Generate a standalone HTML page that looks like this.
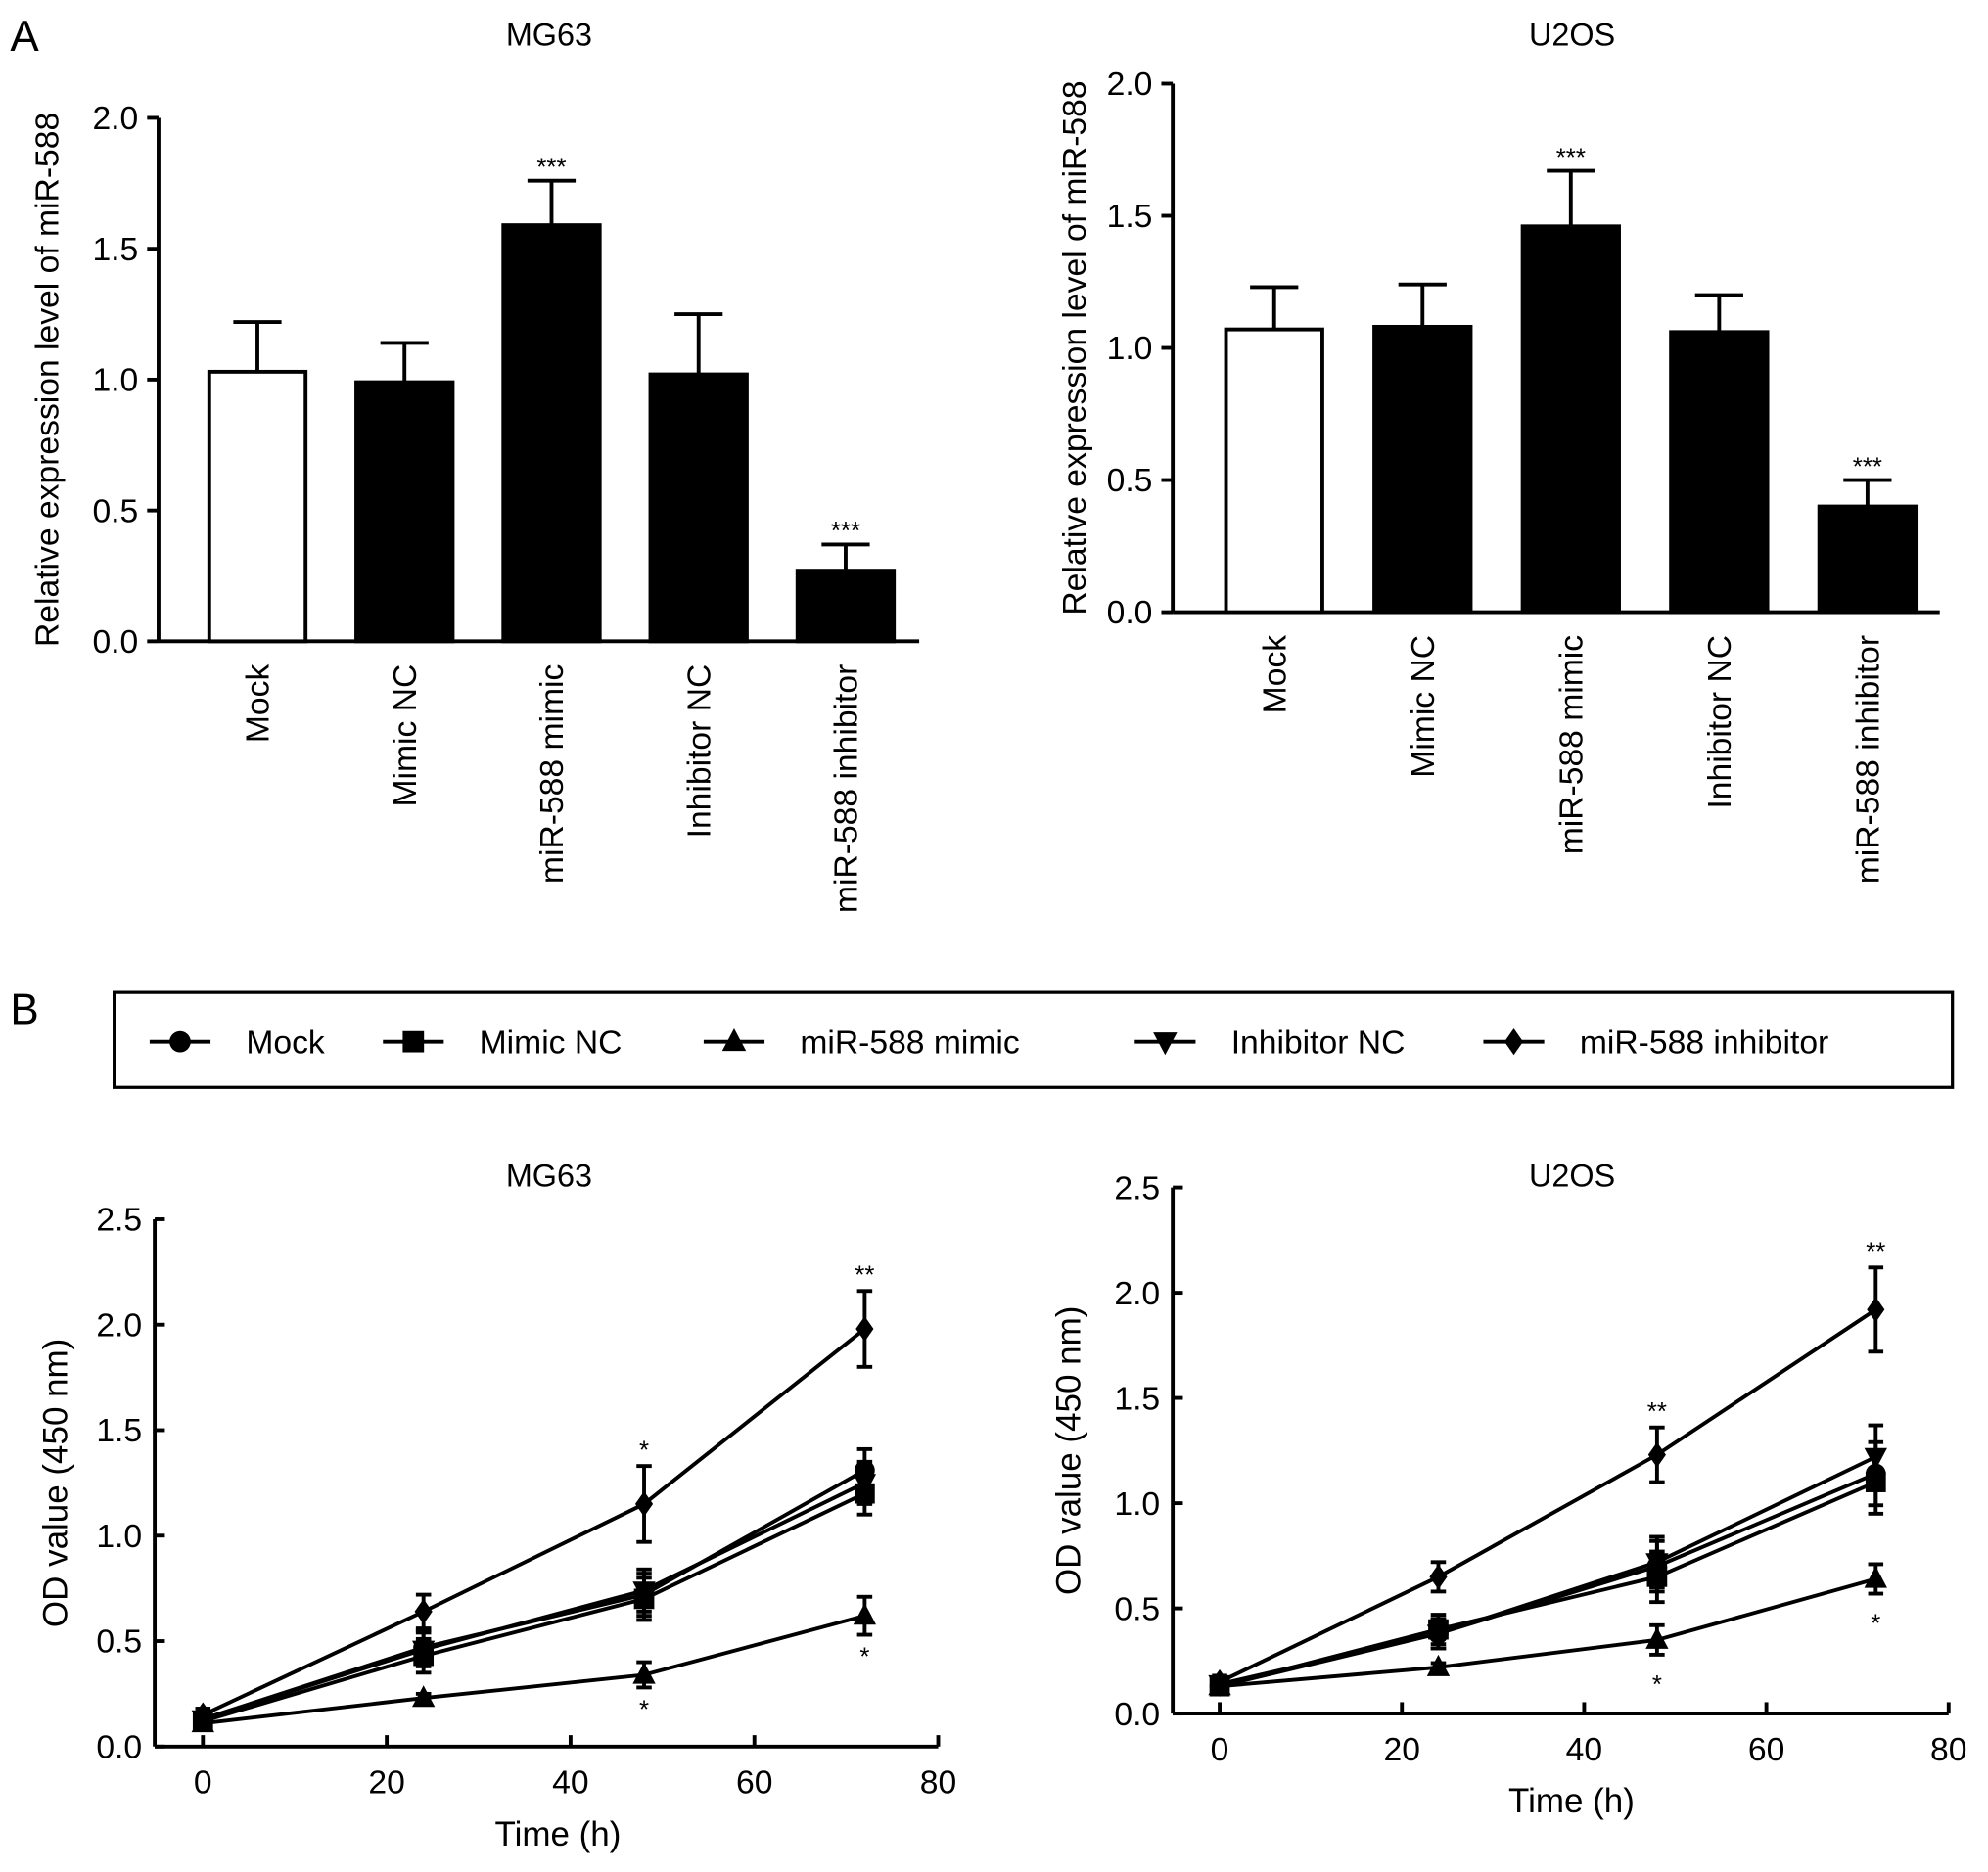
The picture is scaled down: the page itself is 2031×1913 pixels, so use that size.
<!DOCTYPE html>
<html><head><meta charset="utf-8"><style>
html,body{margin:0;padding:0;background:#fff;}
svg{display:block;font-family:"Liberation Sans",Arial,sans-serif;}
</style></head><body>
<svg id="fig" width="2031" height="1913" viewBox="0 0 1568 1477" xmlns="http://www.w3.org/2000/svg">
<text x="8" y="40" font-size="34">A</text>
<text x="8" y="808" font-size="34">B</text>
<g>
<rect x="90" y="783" width="1450" height="75" fill="none" stroke="#000" stroke-width="2.5"/>
<g id="legend-items"></g>
</g>
</svg>
<script>
// ---- Panel A data ----
const barCategories = ["Mock","Mimic NC","miR-588 mimic","Inhibitor NC","miR-588 inhibitor"];
const mg63BarValues = [1.03,0.99,1.59,1.02,0.27];
const mg63BarErrors = [0.19,0.15,0.17,0.23,0.10];
const mg63BarStars = ["","","***","","***"];
const u2osBarValues = [1.07,1.08,1.46,1.06,0.40];
const u2osBarErrors = [0.16,0.16,0.21,0.14,0.10];
const u2osBarStars = ["","","***","","***"];
const barTicks = [0,0.5,1.0,1.5,2.0];
// ---- Panel B data ----
const timePoints = [0,24,48,72];
const seriesNames = ["Mock","Mimic NC","miR-588 mimic","Inhibitor NC","miR-588 inhibitor"];
const mg63Mock = [0.13,0.47,0.72,1.31];
const mg63MimicNC = [0.12,0.43,0.70,1.20];
const mg63Mimic = [0.11,0.23,0.34,0.62];
const mg63InhNC = [0.13,0.46,0.74,1.25];
const mg63Inh = [0.15,0.64,1.15,1.98];
const mg63Err = [0.03,0.08,0.10,0.10];
const mg63InhErr = [0.03,0.08,0.18,0.18];
const mg63MimicErr = [0.02,0.02,0.06,0.09];
const u2osMock = [0.13,0.38,0.70,1.14];
const u2osMimicNC = [0.13,0.40,0.65,1.10];
const u2osMimic = [0.13,0.22,0.35,0.64];
const u2osInhNC = [0.14,0.38,0.72,1.22];
const u2osInh = [0.15,0.65,1.23,1.92];
const u2osErr = [0.03,0.07,0.12,0.15];
const u2osInhErr = [0.03,0.07,0.13,0.20];
const u2osMimicErr = [0.02,0.02,0.07,0.07];
const lineTicksY = [0,0.5,1.0,1.5,2.0,2.5];
const lineTicksX = [0,20,40,60,80];

const NS="http://www.w3.org/2000/svg";
const svg=document.getElementById('fig');
function el(tag,attrs,parent,text){const e=document.createElementNS(NS,tag);for(const k in attrs)e.setAttribute(k,attrs[k]);if(text!==undefined)e.textContent=text;(parent||svg).appendChild(e);return e;}

function barChart(o){
  const g=el('g',{});
  
  
  const y=v=>o.y0-(v/2.0)*(o.y0-o.y2);
  const t=el('text',{x:o.titleX,y:36,'font-size':25,'text-anchor':'middle'},g,o.title);
  
  
  el('line',{x1:o.ax,y1:o.y2,x2:o.ax,y2:o.y0,stroke:'#000','stroke-width':3},g);
  el('line',{x1:o.ax,y1:o.y0,x2:o.axEnd,y2:o.y0,stroke:'#000','stroke-width':3},g);
  barTicks.forEach(v=>{
    el('line',{x1:o.ax-9,y1:y(v),x2:o.ax,y2:y(v),stroke:'#000','stroke-width':3},g);
    const tl=el('text',{x:o.ax-16,y:y(v)+9,'font-size':26,'text-anchor':'end'},g,v.toFixed(1));
    
    
  });
  const yt=el('text',{x:0,y:0,'font-size':26,'text-anchor':'middle',transform:`translate(${o.ytX},${(o.y0+o.y2)/2}) rotate(-90)`},g,'Relative expression level of miR-588');
  
  
  barCategories.forEach((c,i)=>{
    const cx=o.x0+i*o.step, w=79, v=o.values[i], e=o.errors[i];
    el('line',{x1:cx,y1:y(v),x2:cx,y2:y(v+e),stroke:'#000','stroke-width':3},g);
    el('line',{x1:cx-19,y1:y(v+e),x2:cx+19,y2:y(v+e),stroke:'#000','stroke-width':3},g);
    const r=el('rect',{x:cx-w/2+1.5,y:y(v),width:w-3,height:o.y0-y(v),fill:i===0?'#fff':'#000',stroke:'#000','stroke-width':3},g);
    
    
    if(o.stars[i]){const s=el('text',{x:cx,y:y(v+e)-4,'font-size':20,'text-anchor':'middle'},g,o.stars[i]);
      
      }
    const lb=el('text',{x:0,y:0,'font-size':26,'text-anchor':'end',transform:`translate(${cx+9},${o.y0+18}) rotate(-90)`},g,c);
    
    
  });
}
barChart({name:'bar-chart-mg63',title:'MG63',titleX:433,ax:125,axEnd:725,y0:506,y2:93,x0:203,step:116,ytX:46,values:mg63BarValues,errors:mg63BarErrors,stars:mg63BarStars});
barChart({name:'bar-chart-u2os',title:'U2OS',titleX:1240,ax:925,axEnd:1530,y0:483,y2:66,x0:1005,step:117,ytX:856,values:u2osBarValues,errors:u2osBarErrors,stars:u2osBarStars});

function marker(g,type,x,y,s){
  s=s||1;
  if(type==='circle')el('circle',{cx:x,cy:y,r:8*s,fill:'#000'},g);
  else if(type==='square')el('rect',{x:x-8*s,y:y-8*s,width:16*s,height:16*s,fill:'#000'},g);
  else if(type==='up')el('polygon',{points:`${x},${y-10*s} ${x-9*s},${y+7*s} ${x+9*s},${y+7*s}`,fill:'#000'},g);
  else if(type==='down')el('polygon',{points:`${x},${y+10*s} ${x-9*s},${y-7*s} ${x+9*s},${y-7*s}`,fill:'#000'},g);
  else el('polygon',{points:`${x},${y-10*s} ${x+7*s},${y} ${x},${y+10*s} ${x-7*s},${y}`,fill:'#000'},g);
}
const markerTypes=['circle','square','up','down','diamond'];

function lineChart(o){
  const g=el('g',{});
  
  
  const y=v=>o.y0-(v/2.5)*(o.y0-o.yTop);
  const x=v=>o.x0+(v/80)*(o.x80-o.x0);
  const t=el('text',{x:o.titleX,y:936,'font-size':25,'text-anchor':'middle'},g,o.title);
  
  
  el('line',{x1:o.ax,y1:o.yTop,x2:o.ax,y2:o.y0,stroke:'#000','stroke-width':3},g);
  el('line',{x1:o.ax,y1:o.y0,x2:o.x80,y2:o.y0,stroke:'#000','stroke-width':3},g);
  lineTicksY.forEach(v=>{
    el('line',{x1:o.ax,y1:y(v),x2:o.ax+8,y2:y(v),stroke:'#000','stroke-width':3},g);
    const tl=el('text',{x:o.ax-10,y:y(v)+9,'font-size':26,'text-anchor':'end'},g,v.toFixed(1));
    
    
  });
  lineTicksX.forEach(v=>{
    el('line',{x1:x(v),y1:o.y0,x2:x(v),y2:o.y0-9,stroke:'#000','stroke-width':3},g);
    const tl=el('text',{x:x(v),y:o.y0+37,'font-size':26,'text-anchor':'middle'},g,String(v));
    
    
  });
  const xt=el('text',{x:(o.x0+o.x80)/2-10,y:o.y0+78,'font-size':27,'text-anchor':'middle'},g,'Time (h)');
  
  
  const yt=el('text',{x:0,y:0,'font-size':27,'text-anchor':'middle',transform:`translate(${o.ytX},${(o.y0+o.yTop)/2}) rotate(-90)`},g,'OD value (450 nm)');
  
  
  o.series.forEach((s,si)=>{
    const sg=el('g',{},g);
    
    
    el('polyline',{points:timePoints.map((tp,i)=>x(tp)+','+y(s[i])).join(' '),fill:'none',stroke:'#000','stroke-width':3},sg);
    timePoints.forEach((tp,i)=>{
      const e=o.errs[si][i],cx=x(tp);
      el('line',{x1:cx,y1:y(s[i]-e),x2:cx,y2:y(s[i]+e),stroke:'#000','stroke-width':3},sg);
      el('line',{x1:cx-6,y1:y(s[i]+e),x2:cx+6,y2:y(s[i]+e),stroke:'#000','stroke-width':3},sg);
      el('line',{x1:cx-6,y1:y(s[i]-e),x2:cx+6,y2:y(s[i]-e),stroke:'#000','stroke-width':3},sg);
      marker(sg,markerTypes[si],cx,y(s[i]));
    });
  });
  o.stars.forEach(st=>{
    const s=el('text',{x:x(st[0]),y:y(st[1])+st[2],'font-size':20,'text-anchor':'middle'},g,st[3]);
    
    
  });
}
lineChart({name:'line-chart-mg63',title:'MG63',titleX:433,ax:122,x0:160,x80:740,y0:1378,yTop:962,ytX:53,
  series:[mg63Mock,mg63MimicNC,mg63Mimic,mg63InhNC,mg63Inh],
  errs:[mg63Err,mg63Err,mg63MimicErr,mg63Err,mg63InhErr],
  stars:[[48,mg63Inh[2]+mg63InhErr[2],-6,'*'],[72,mg63Inh[3]+mg63InhErr[3],-6,'**'],[48,mg63Mimic[2]-mg63MimicErr[2],24,'*'],[72,mg63Mimic[3]-mg63MimicErr[3],24,'*']]});
lineChart({name:'line-chart-u2os',title:'U2OS',titleX:1240,ax:925,x0:962,x80:1537,y0:1352,yTop:937,ytX:852,
  series:[u2osMock,u2osMimicNC,u2osMimic,u2osInhNC,u2osInh],
  errs:[u2osErr,u2osErr,u2osMimicErr,u2osErr,u2osInhErr],
  stars:[[48,u2osInh[2]+u2osInhErr[2],-6,'**'],[72,u2osInh[3]+u2osInhErr[3],-6,'**'],[48,u2osMimic[2]-u2osMimicErr[2],30,'*'],[72,u2osMimic[3]-u2osMimicErr[3],30,'*']]});

// legend
const lg=document.getElementById('legend-items');
const legendX=[118,302,555,895,1170];
seriesNames.forEach((n,i)=>{
  const g=el('g',{},lg);
  
  
  el('line',{x1:legendX[i],y1:822,x2:legendX[i]+48,y2:822,stroke:'#000','stroke-width':3},g);
  marker(g,markerTypes[i],legendX[i]+24,822,1.05);
  el('text',{x:legendX[i]+76,y:831,'font-size':26},g,n);
});
</script>
</body></html>
